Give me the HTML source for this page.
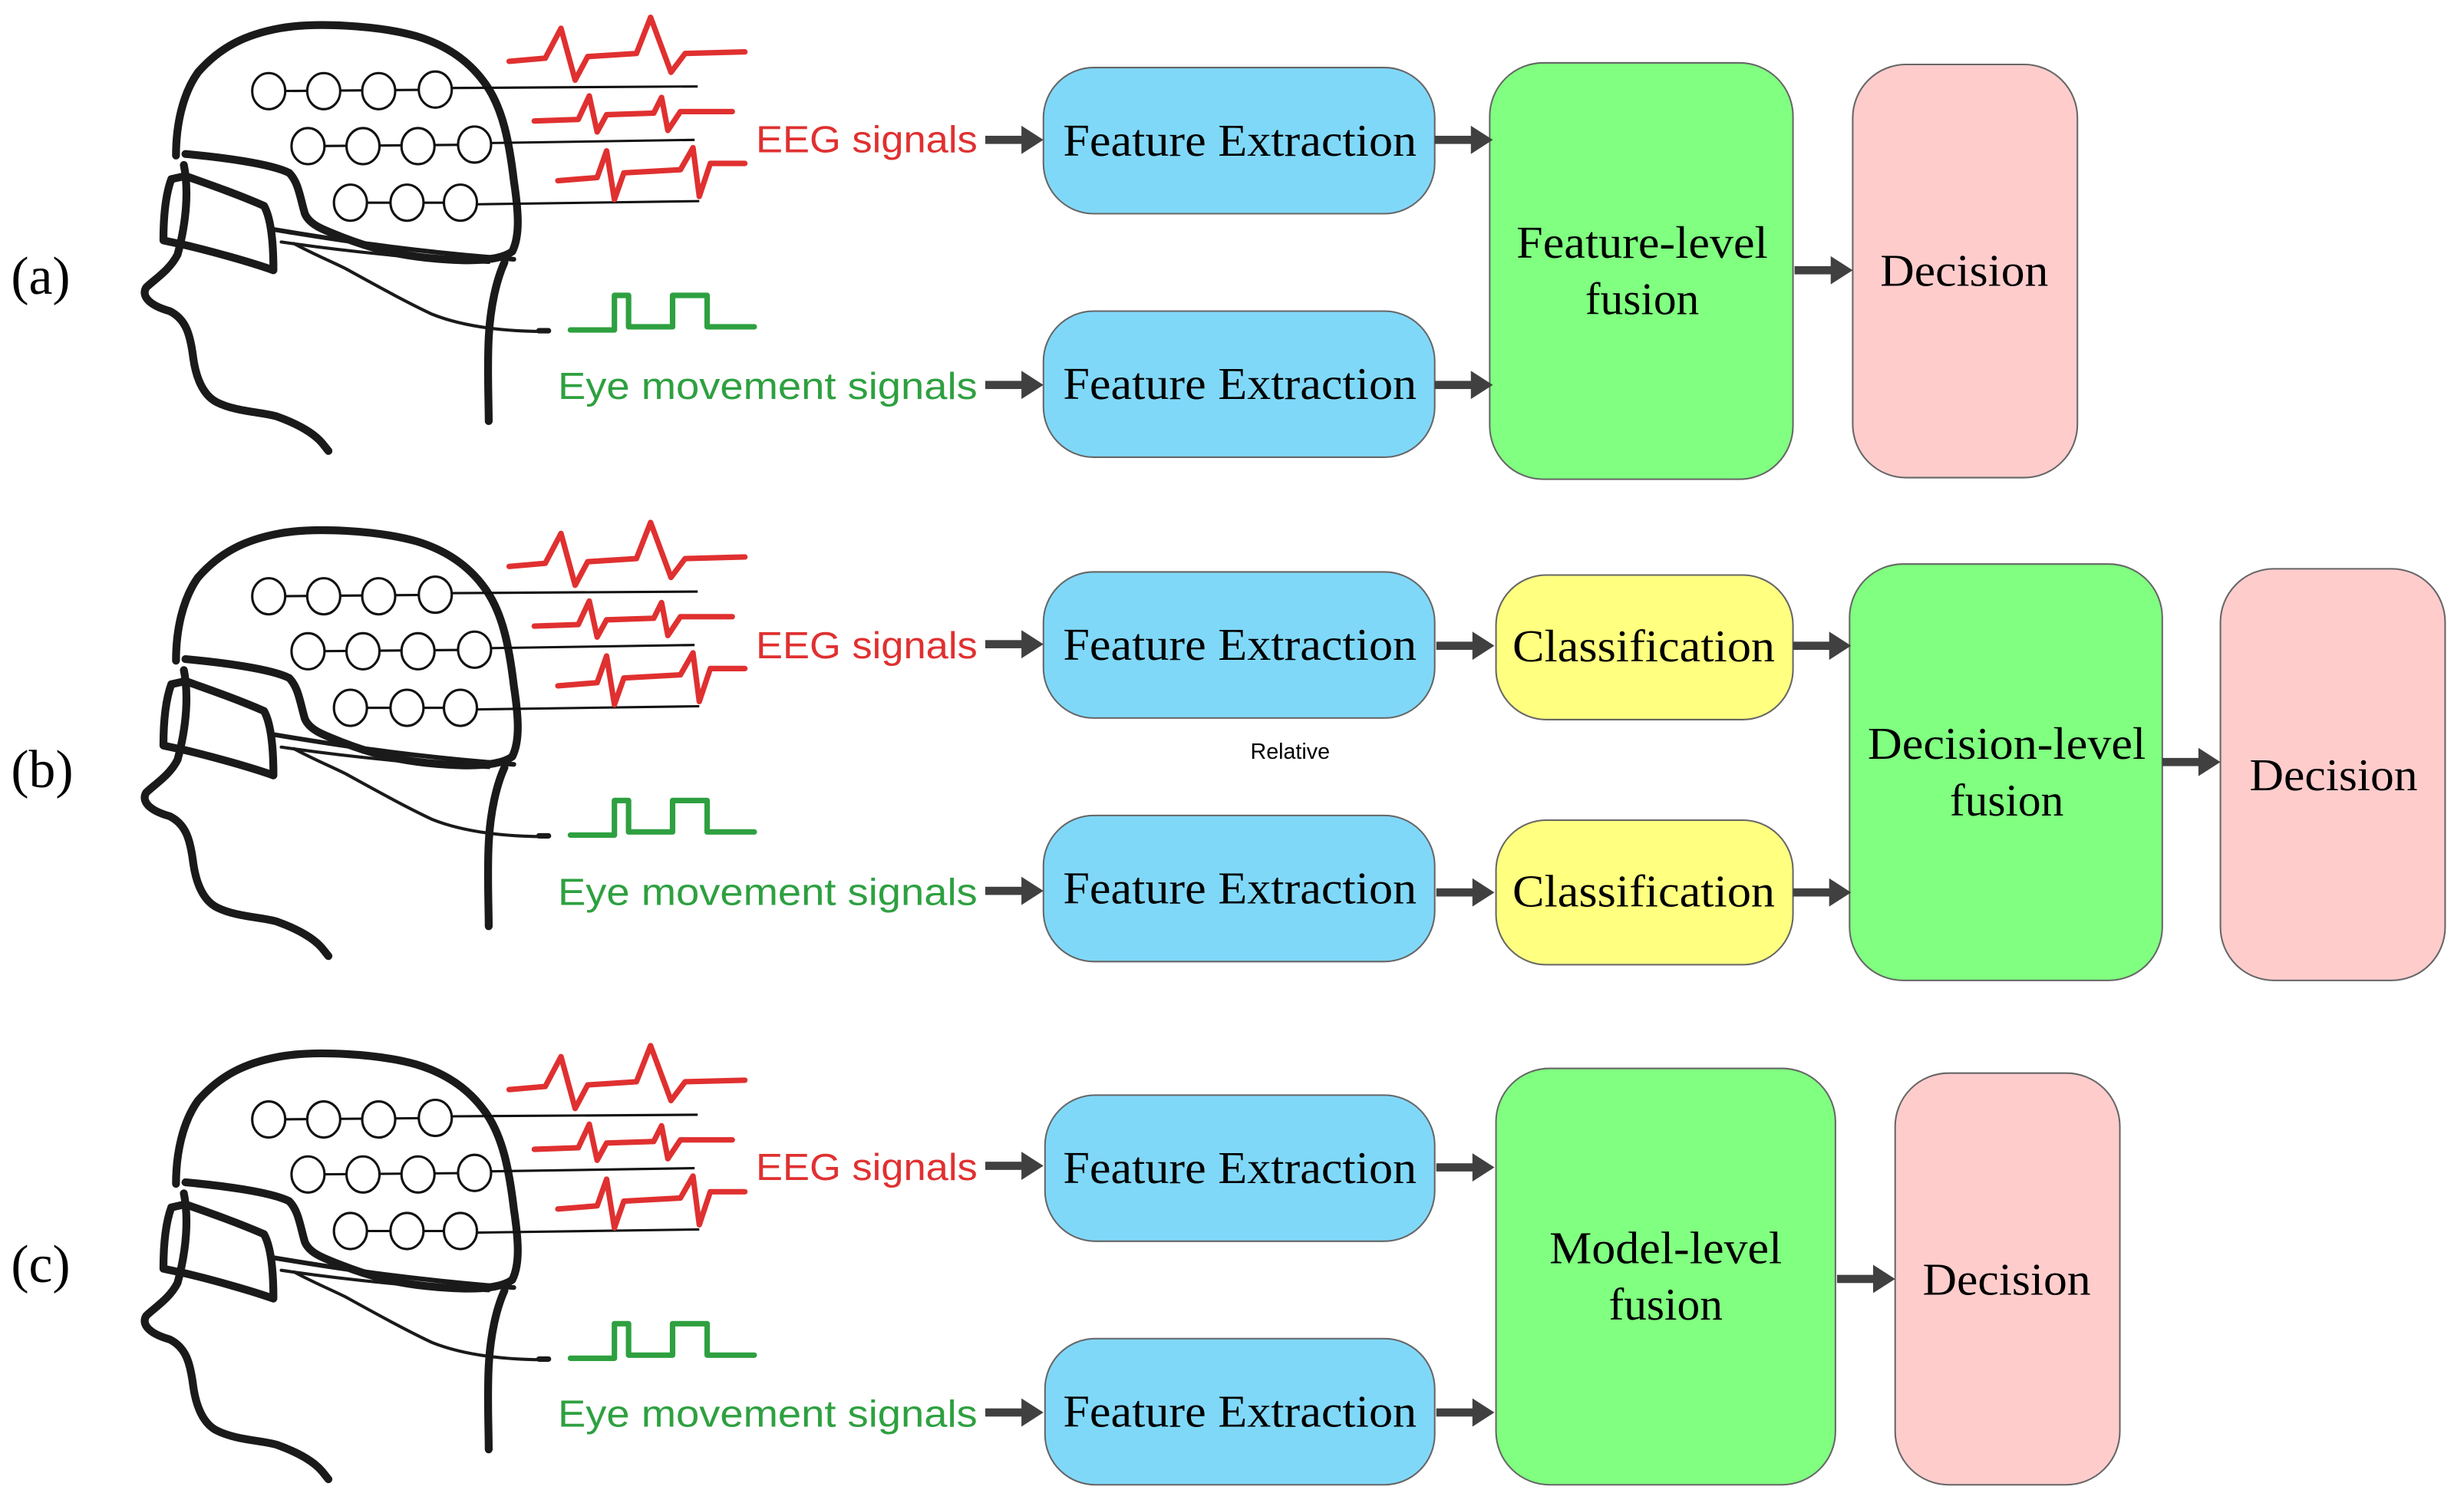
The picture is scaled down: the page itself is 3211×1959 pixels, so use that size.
<!DOCTYPE html>
<html><head><meta charset="utf-8"><style>html,body{margin:0;padding:0;background:#fff}svg{display:block}</style></head>
<body>
<svg width="3211" height="1959" viewBox="0 0 1568 956.6" xmlns="http://www.w3.org/2000/svg">
<defs>
<g id="head">
 <g fill="none" stroke="#1a1a1a" stroke-linecap="round" stroke-linejoin="round">
  <path d="M112,99 C112,80 116,60 126,46 C140,30 156,22 178,18 C200,14 240,16 265,23 C285,29 300,40 310,55 C320,70 324,90 327,115 C330,135 331,150 326,160 C318,166 300,167 271,164 C252,162 236,158 218,151 C205,146 197,143 194,136 C191,126 190,116 184,110 C172,104 140,100 118,98" stroke-width="5"/>
  <path d="M109,114 L118,112 C135,118 152,124 168,131 C173,140 174,158 174,172 C160,167 135,160 118,156 L104,153 C104,140 105,125 109,114 Z" stroke-width="5"/>
  <path d="M174,146 C210,152 260,160 327,165" stroke-width="3"/>
  <path d="M179,154 C220,160 270,165 311,167" stroke-width="2"/>
  <path d="M117,105 C120,120 119,140 113,162 C108,172 98,178 93,183 C90,188 94,194 108,198 C118,203 121,212 123,228 C125,242 130,252 138,256 C150,262 165,262 176,265 C190,270 200,276 205,282 L209,287" stroke-width="5"/>
  <path d="M321,167 C316,178 312,195 311,215 C310,235 311,255 311,268" stroke-width="5"/>
  <path d="M187,155 C200,162 210,166 220,171 C240,182 258,192 275,200 C295,208 320,211 349,211" stroke-width="2"/>
  <path d="M349,210.5 L343,210.5" stroke-width="3.5"/>
 </g>
 <g fill="#fff" stroke="#111" stroke-width="1.5">
  <line x1="171" y1="58" x2="288" y2="57"/><line x1="288" y1="56" x2="444" y2="55"/>
  <line x1="196" y1="93" x2="313" y2="92"/><line x1="313" y1="91" x2="442" y2="89"/>
  <line x1="223" y1="129" x2="304" y2="129"/><line x1="304" y1="130" x2="445" y2="128"/>
  <ellipse cx="171" cy="58" rx="10.5" ry="11.5"/><ellipse cx="206" cy="58" rx="10.5" ry="11.5"/><ellipse cx="241" cy="58" rx="10.5" ry="11.5"/><ellipse cx="277" cy="57" rx="10.5" ry="11.5"/>
  <ellipse cx="196" cy="93" rx="10.5" ry="11.5"/><ellipse cx="231" cy="93" rx="10.5" ry="11.5"/><ellipse cx="266" cy="93" rx="10.5" ry="11.5"/><ellipse cx="302" cy="92" rx="10.5" ry="11.5"/>
  <ellipse cx="223" cy="129" rx="10.5" ry="11.5"/><ellipse cx="259" cy="129" rx="10.5" ry="11.5"/><ellipse cx="293" cy="129" rx="10.5" ry="11.5"/>
 </g>
 <g fill="none" stroke="#e03030" stroke-width="3.5" stroke-linejoin="round" stroke-linecap="round">
  <polyline points="324,39 347,37 357,18 366,51 374,36 405,34 414,11 427,46 436,34 474,33"/>
  <polyline points="340,77 368,76 375,61 380,84 386,73 416,72 421,62 425,83 433,71 466,71"/>
  <polyline points="355,115 380,113 386,96 391,127 397,110 433,108 441,94 445,125 452,104 474,104"/>
 </g>
 <polyline fill="none" stroke="#2ea040" stroke-width="3.5" stroke-linejoin="round" stroke-linecap="round" points="363,210 391,210 391,188 400,188 400,208 428,208 428,188 450,188 450,208 480,208"/>
</g>
<g id="arr"><rect x="0" y="-2.6" width="24" height="5.2" fill="#404040"/><polygon points="23,-9 37,0 23,9" fill="#404040"/></g>
</defs>
<style>
.sr{font-family:"Liberation Serif",serif;fill:#000}
.ss{font-family:"Liberation Sans",sans-serif}
.b{stroke:#666;stroke-width:1}
</style>

<use href="#head"/>
<use href="#head" transform="translate(0,321.5)"/>
<use href="#head" transform="translate(0,654.5)"/>

<g class="ss" font-size="24">
 <text x="481" y="97" fill="#e03030" textLength="141" lengthAdjust="spacingAndGlyphs">EEG signals</text>
 <text x="355" y="254" fill="#2ea040" textLength="267" lengthAdjust="spacingAndGlyphs">Eye movement signals</text>
 <text x="481" y="419" fill="#e03030" textLength="141" lengthAdjust="spacingAndGlyphs">EEG signals</text>
 <text x="355" y="576" fill="#2ea040" textLength="267" lengthAdjust="spacingAndGlyphs">Eye movement signals</text>
 <text x="481" y="751" fill="#e03030" textLength="141" lengthAdjust="spacingAndGlyphs">EEG signals</text>
 <text x="355" y="908" fill="#2ea040" textLength="267" lengthAdjust="spacingAndGlyphs">Eye movement signals</text>
</g>
<g class="sr" font-size="34">
 <text x="7" y="187">(a)</text>
 <text x="7" y="501">(b)</text>
 <text x="7" y="816">(c)</text>
</g>

<rect class="b" x="664" y="43" width="249" height="93" rx="32" fill="#80d8f8"/>
<rect class="b" x="664" y="198" width="249" height="93" rx="32" fill="#80d8f8"/>
<rect class="b" x="948" y="40" width="193" height="265" rx="34" fill="#80ff80"/>
<rect class="b" x="1179" y="41" width="143" height="263" rx="34" fill="#ffcccc"/>
<g class="sr" font-size="29" text-anchor="middle">
 <text x="789" y="99" textLength="225" lengthAdjust="spacingAndGlyphs">Feature Extraction</text>
 <text x="789" y="254" textLength="225" lengthAdjust="spacingAndGlyphs">Feature Extraction</text>
 <text x="1045" y="164" textLength="160" lengthAdjust="spacingAndGlyphs">Feature-level</text>
 <text x="1045" y="200">fusion</text>
 <text x="1250" y="182" textLength="107" lengthAdjust="spacingAndGlyphs">Decision</text>
</g>
<use href="#arr" transform="translate(627,89)"/>
<use href="#arr" transform="translate(913,89)"/>
<use href="#arr" transform="translate(627,245)"/>
<use href="#arr" transform="translate(913,245)"/>
<use href="#arr" transform="translate(1142,172)"/>

<rect class="b" x="664" y="364" width="249" height="93" rx="32" fill="#80d8f8"/>
<rect class="b" x="664" y="519" width="249" height="93" rx="32" fill="#80d8f8"/>
<rect class="b" x="952" y="366" width="189" height="92" rx="32" fill="#ffff80"/>
<rect class="b" x="952" y="522" width="189" height="92" rx="32" fill="#ffff80"/>
<rect class="b" x="1177" y="359" width="199" height="265" rx="34" fill="#80ff80"/>
<rect class="b" x="1413" y="362" width="143" height="262" rx="34" fill="#ffcccc"/>
<g class="sr" font-size="29" text-anchor="middle">
 <text x="789" y="420" textLength="225" lengthAdjust="spacingAndGlyphs">Feature Extraction</text>
 <text x="789" y="575" textLength="225" lengthAdjust="spacingAndGlyphs">Feature Extraction</text>
 <text x="1046" y="421" textLength="167" lengthAdjust="spacingAndGlyphs">Classification</text>
 <text x="1046" y="577" textLength="167" lengthAdjust="spacingAndGlyphs">Classification</text>
 <text x="1277" y="483" textLength="177" lengthAdjust="spacingAndGlyphs">Decision-level</text>
 <text x="1277" y="519">fusion</text>
 <text x="1485" y="503" textLength="107" lengthAdjust="spacingAndGlyphs">Decision</text>
</g>
<text class="ss" x="821" y="483" font-size="14" text-anchor="middle" fill="#000">Relative</text>
<use href="#arr" transform="translate(627,410)"/>
<use href="#arr" transform="translate(914,411)"/>
<use href="#arr" transform="translate(627,567)"/>
<use href="#arr" transform="translate(914,568)"/>
<use href="#arr" transform="translate(1141,411)"/>
<use href="#arr" transform="translate(1141,568)"/>
<use href="#arr" transform="translate(1376,485)"/>

<rect class="b" x="665" y="697" width="248" height="93" rx="32" fill="#80d8f8"/>
<rect class="b" x="665" y="852" width="248" height="93" rx="32" fill="#80d8f8"/>
<rect class="b" x="952" y="680" width="216" height="265" rx="34" fill="#80ff80"/>
<rect class="b" x="1206" y="683" width="143" height="262" rx="34" fill="#ffcccc"/>
<g class="sr" font-size="29" text-anchor="middle">
 <text x="789" y="753" textLength="225" lengthAdjust="spacingAndGlyphs">Feature Extraction</text>
 <text x="789" y="908" textLength="225" lengthAdjust="spacingAndGlyphs">Feature Extraction</text>
 <text x="1060" y="804" textLength="148" lengthAdjust="spacingAndGlyphs">Model-level</text>
 <text x="1060" y="840">fusion</text>
 <text x="1277" y="824" textLength="107" lengthAdjust="spacingAndGlyphs">Decision</text>
</g>
<use href="#arr" transform="translate(627,742)"/>
<use href="#arr" transform="translate(914,743)"/>
<use href="#arr" transform="translate(627,899)"/>
<use href="#arr" transform="translate(914,899)"/>
<use href="#arr" transform="translate(1169,814)"/>
</svg>
</body></html>
